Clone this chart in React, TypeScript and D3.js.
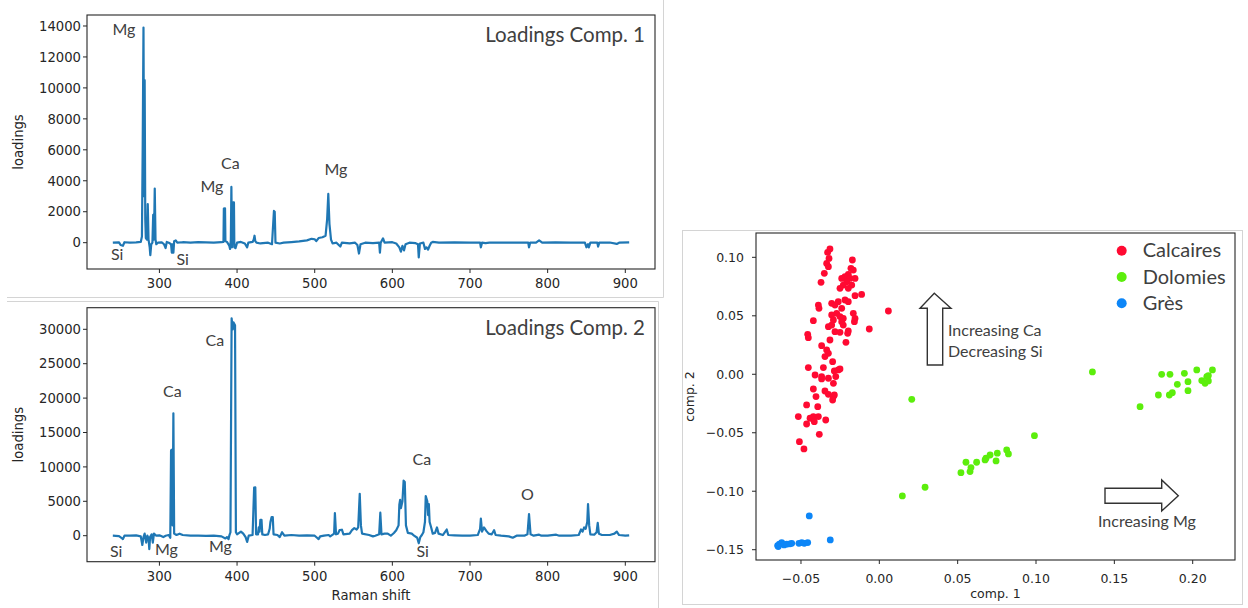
import React from "react";
import * as d3 from "d3";

// ---------- DATA ----------
// Loadings component 1: [Raman shift, loading]
const loadings1: [number, number][] = [
  [240, 0], [248, 20], [250, -150], [253, -200], [255, 30], [262, 0], [270, 20], [276, 50],
  [277.5, 400], [278.5, 6300], [279.5, 13900], [280.3, 3000], [281, 10500], [281.8, 1500], [282.5, 300],
  [284, 200], [285, 2500], [286, 200], [287.5, -300], [288.3, -800], [289.5, -100], [291, 0], [292, 1800],
  [293, 200], [294, 3500], [295, 200], [296, -100], [298, 0],
  [303, 20], [306, -100], [308, -350], [309.5, 50], [312, 0], [315, -100], [316, -650], [317, -100],
  [318, -650], [319, 100], [321, 150], [323, 0],
  [330, 30], [340, 0], [350, 40], [360, 20], [370, 0], [380, 30], [382.5, 50], [383, 2200], [384.5, 2220],
  [385, 100], [387, 50], [390, -200], [391, -400], [392, 200], [392.7, 3600], [393.5, -300], [395, 2600],
  [396, 2600], [396.5, -300], [398, -350], [400, 0], [405, 50], [410, -50], [413, -300], [414.5, 0],
  [420, 50], [421.5, 200], [422.5, 450], [423.5, 100], [425, 0], [430, -50], [440, 0], [445, -100],
  [447.5, 2050], [448.5, 2000], [449.5, 0], [455, -50], [460, 0], [470, 40], [480, 80], [490, 150],
  [496, 250], [500, 220], [502, 100], [505, 300], [510, 350], [514, 450], [516, 1500], [517.5, 3150],
  [519, 1200], [521, 200], [523, -50], [528, 0], [530, -100], [533, -250], [535, 0], [545, -50], [552, 0],
  [555, -150], [557, -700], [559, -100], [565, 0], [575, -30], [583, 0], [584, -650], [585, 0], [588, 280],
  [590, 0], [600, 30], [605, -50], [609, -300], [611, -580], [613, -200], [615, -500], [617, -100],
  [622, 0], [630, -30], [633, -100], [634, -950], [635.5, -50], [640, 0], [642, -400], [644, -300],
  [646, -450], [648, -200], [650, 0], [652, 50], [660, 0], [680, 20], [700, 0], [713, 0], [714, -300],
  [715.5, 0], [720, -30], [725, 0], [740, 10], [760, 0], [775, 0], [776, -300], [777.5, 0], [785, 0],
  [789, 150], [793, 0], [810, 20], [830, 0], [848, 0], [850, -300], [852, -100], [853, -300], [855, 0],
  [864, 0], [865, -250], [866.5, 0], [880, 10], [889, -80], [892, 0], [905, 20],
];

// Loadings component 2: [Raman shift, loading]
const loadings2: [number, number][] = [
  [240, 0], [248, -50], [251, -300], [253, -500], [255, 0], [262, 0], [270, 50], [276, -100],
  [278, -1350], [279.5, -200], [281, 300], [283, -1000], [284.5, 0], [286, -400], [287, -1940],
  [288, -200], [290, 200], [291.5, -1000], [293, 300], [296, 0], [300, 50], [305, -200], [308, 0],
  [312, 100], [314, -300], [315, 12400], [316, 12500], [317, 1500], [318, 17800], [319, 300], [322, 100],
  [326, 300], [330, 100], [340, 0], [350, 0], [360, -30], [370, 0], [380, -100], [385, -400], [387, -200],
  [389, -500], [390, 0], [391.5, 500], [393, 31600], [394.5, 30000], [395.5, 31000], [397.4, 30600],
  [398.5, 500], [400, 200], [405, 600], [408, 300], [411, -200], [413, -900], [415, 0], [420, 100],
  [422, 7000], [423.5, 7030], [424.5, 200], [427, 200], [428, 1200], [429, 600], [430, 2300],
  [431.5, 2300], [432.5, 200], [436, 100], [440, 200], [442, 1000], [443, 2000], [444.5, 2700],
  [446, 2700], [447, 200], [452, 100], [455, -200], [458, 500], [461, 0], [470, 100], [480, 0], [490, 50],
  [500, 0], [503, -300], [505, -500], [507, -100], [512, 0], [518, 100], [520, -100], [525, 300],
  [526, 3300], [527.5, 200], [530, 300], [532, 800], [535, 870], [537, 200], [545, 300], [548, 800],
  [551, 1100], [554, 900], [556, 1200], [558, 6100], [559.5, 1500], [561, 300], [570, 100], [575, -100],
  [578, 0], [583, 200], [584.5, 3340], [586, 200], [590, 300], [594, 300], [598, 0], [602, 400],
  [605, 800], [608, 1500], [609, 4500], [610, 5200], [611, 4000], [613, 5000], [614.5, 8000],
  [616, 7800], [617.5, 1500], [620, 400], [625, 300], [628, 0], [632, -300], [634, -1100], [636, -200],
  [638, 100], [640, 500], [642, 2000], [643, 5770], [645, 5000], [646, 3000], [647, 4600], [648, 2000],
  [650, 1200], [652, 300], [655, 400], [657.5, 1200], [659.5, 300], [665, 100], [670, 900], [672, 100],
  [680, 50], [690, 0], [700, 0], [710, 100], [713, 1000], [714, 2500], [715.5, 600], [718, 1200],
  [721, 700], [724, 300], [728, 200], [731, 800], [733, 100], [740, 0], [750, -100], [755, -300],
  [760, 0], [770, 0], [774, 200], [776, 3150], [778, 200], [782, 0], [789, 150], [792, 0], [800, 0],
  [811, 150], [815, 0], [830, 0], [840, 100], [843, 900], [845, 600], [847, 1200], [849, 1000],
  [851, 2000], [852, 4600], [853.5, 1500], [855, 200], [860, 150], [863, 500], [864.5, 1870], [866, 300],
  [870, 100], [880, 100], [886, 300], [889, 600], [892, 100], [900, 0], [905, 50],
];

// Scatter: [comp.1, comp.2]
const calcaires: [number, number][] = [
  [-0.0315, 0.1071], [-0.0330, 0.1042], [-0.0321, 0.0991], [-0.0336, 0.0948], [-0.0325, 0.0920],
  [-0.0351, 0.0863], [-0.0372, 0.0786], [-0.0172, 0.0977], [-0.0181, 0.0906], [-0.0166, 0.0891],
  [-0.0198, 0.0854], [-0.0219, 0.0834], [-0.0240, 0.0820], [-0.0187, 0.0820], [-0.0155, 0.0820],
  [-0.0208, 0.0792], [-0.0230, 0.0763], [-0.0176, 0.0763], [-0.0198, 0.0735], [-0.0251, 0.0735],
  [-0.0155, 0.0672], [-0.0113, 0.0683], [-0.0389, 0.0592], [-0.0385, 0.0564], [-0.0304, 0.0607],
  [-0.0262, 0.0621], [-0.0283, 0.0592], [-0.0219, 0.0635], [-0.0198, 0.0621], [-0.0240, 0.0564],
  [-0.0304, 0.0507], [-0.0272, 0.0521], [-0.0251, 0.0493], [-0.0230, 0.0478], [-0.0166, 0.0521],
  [-0.0155, 0.0478], [-0.0159, 0.0450], [-0.0293, 0.0464], [-0.0240, 0.0450], [-0.0230, 0.0421],
  [-0.0421, 0.0458], [-0.0325, 0.0407], [-0.0304, 0.0421], [-0.0283, 0.0364], [-0.0251, 0.0359],
  [-0.0198, 0.0370], [-0.0202, 0.0350], [-0.0064, 0.0387], [0.0058, 0.0541], [-0.0457, 0.0342],
  [-0.0453, 0.0313], [-0.0315, 0.0293], [-0.0213, 0.0273], [-0.0368, 0.0245], [-0.0336, 0.0208],
  [-0.0325, 0.0179], [-0.0347, 0.0151], [-0.0298, 0.0108], [-0.0453, 0.0057], [-0.0410, -0.0006],
  [-0.0357, 0.0057], [-0.0368, -0.0020], [-0.0325, -0.0034], [-0.0287, 0.0028], [-0.0262, 0.0037],
  [-0.0251, 0.0045], [-0.0278, -0.0020], [-0.0293, -0.0077], [-0.0368, -0.0040], [-0.0421, -0.0126],
  [-0.0347, -0.0143], [-0.0325, -0.0171], [-0.0293, -0.0191], [-0.0287, -0.0177], [-0.0404, -0.0191],
  [-0.0298, -0.0220], [-0.0464, -0.0262], [-0.0393, -0.0277], [-0.0517, -0.0362], [-0.0464, -0.0425],
  [-0.0442, -0.0376], [-0.0421, -0.0362], [-0.0389, -0.0362], [-0.0415, -0.0405], [-0.0342, -0.0391],
  [-0.0383, -0.0513], [-0.0510, -0.0576], [-0.0481, -0.0638],
];

const dolomies: [number, number][] = [
  [0.0207, -0.0214], [0.1360, 0.0020], [0.1664, -0.0277], [0.1802, 0.0000], [0.1855, 0.0000],
  [0.1947, 0.0008], [0.2026, 0.0037], [0.2126, 0.0037], [0.1902, -0.0086], [0.1970, -0.0063],
  [0.2058, -0.0054], [0.2079, -0.0077], [0.2100, -0.0057], [0.2090, -0.0020], [0.2100, -0.0011],
  [0.1781, -0.0177], [0.1851, -0.0177], [0.1870, -0.0157], [0.1970, -0.0140],
  [0.0990, -0.0525], [0.0521, -0.0841], [0.0553, -0.0752], [0.0579, -0.0832], [0.0585, -0.0798],
  [0.0621, -0.0752], [0.0675, -0.0732], [0.0681, -0.0718], [0.0707, -0.0690], [0.0745, -0.0741],
  [0.0753, -0.0675], [0.0813, -0.0647], [0.0824, -0.0681], [0.0147, -0.1040], [0.0292, -0.0966],
];

const gres: [number, number][] = [
  [-0.0447, -0.1211], [-0.0313, -0.1416], [-0.0649, -0.1465], [-0.0638, -0.1453], [-0.0623, -0.1439],
  [-0.0608, -0.1459], [-0.0591, -0.1453], [-0.0570, -0.1450], [-0.0559, -0.1445], [-0.0513, -0.1445],
  [-0.0495, -0.1439], [-0.0479, -0.1445], [-0.0457, -0.1439], [-0.0645, -0.1473],
];

const xTicksSpec = [300, 400, 500, 600, 700, 800, 900];
const yTicks1 = [0, 2000, 4000, 6000, 8000, 10000, 12000, 14000];
const yTicks2 = [0, 5000, 10000, 15000, 20000, 25000, 30000];
const scatterXTicks = [-0.05, 0, 0.05, 0.1, 0.15, 0.2];
const scatterYTicks = [-0.15, -0.1, -0.05, 0, 0.05, 0.1];

const legendLabels = ["Calcaires", "Dolomies", "Grès"];
const legendColors = ["#ff0a32", "#5cee0c", "#0d86f7"];

// annotation labels (text, left x px, baseline y px)
const ann1: [string, number, number][] = [
  ["Mg", 112.5, 35], ["Si", 111, 260], ["Si", 176.5, 265], ["Mg", 200.5, 191.5], ["Ca", 221, 169.3],
  ["Mg", 324.5, 175],
];
const ann2: [string, number, number][] = [
  ["Ca", 205.5, 345.7], ["Ca", 163, 396.7], ["Si", 110, 556.7], ["Mg", 155, 555], ["Mg", 209, 551.7],
  ["Ca", 412.5, 465], ["O", 521, 500], ["Si", 416.5, 556.7],
];

// ---------- STYLE ----------
const TICK_FONT = "'DejaVu Sans', sans-serif";
const ANN_FONT = "Lato, 'Open Sans', sans-serif";
const AXIS_COLOR = "#262626";
const TEXT_COLOR = "#262626";
const LINE_COLOR = "#1f77b4";
const FRAME = "#d4d4d4";

const fmtScatter = (v: number) => {
  const s = Math.abs(v).toFixed(2);
  return v < -1e-9 ? "\u2212" + s : s;
};

type SpecProps = {
  id: string;
  data: [number, number][];
  top: number;
  bottom: number;
  yDomain: [number, number];
  yTicks: number[];
  title: string;
  ann: [string, number, number][];
  xLabel?: string;
};

const LEFT = 87;
const RIGHT = 655;

function Spectrum({ id, data, top, bottom, yDomain, yTicks, title, ann, xLabel }: SpecProps) {
  const x = d3.scaleLinear().domain([206.75, 938.25]).range([LEFT, RIGHT]);
  const y = d3.scaleLinear().domain(yDomain).range([bottom, top]);
  const line = d3
    .line<[number, number]>()
    .x((d) => x(d[0]))
    .y((d) => y(d[1]));
  return (
    <g>
      <clipPath id={id}>
        <rect x={LEFT} y={top} width={RIGHT - LEFT} height={bottom - top} />
      </clipPath>
      <path
        d={line(data) || ""}
        fill="none"
        stroke={LINE_COLOR}
        strokeWidth={2.2}
        strokeLinejoin="round"
        clipPath={`url(#${id})`}
      />
      <rect x={LEFT} y={top} width={RIGHT - LEFT} height={bottom - top} fill="none" stroke={AXIS_COLOR} strokeWidth={1.1} />
      {xTicksSpec.map((t) => (
        <g key={"x" + t}>
          <line x1={x(t)} x2={x(t)} y1={bottom} y2={bottom + 4} stroke={AXIS_COLOR} strokeWidth={1} />
          <text x={x(t)} y={bottom + 19} textAnchor="middle" fontFamily={TICK_FONT} fontSize={13.2} fill={TEXT_COLOR}>
            {t}
          </text>
        </g>
      ))}
      {yTicks.map((t) => (
        <g key={"y" + t}>
          <line x1={LEFT - 4} x2={LEFT} y1={y(t)} y2={y(t)} stroke={AXIS_COLOR} strokeWidth={1} />
          <text x={LEFT - 6} y={y(t)} dy="0.36em" textAnchor="end" fontFamily={TICK_FONT} fontSize={13.2} fill={TEXT_COLOR}>
            {t}
          </text>
        </g>
      ))}
      <text
        transform={`translate(18,${(top + bottom) / 2}) rotate(-90)`}
        textAnchor="middle"
        dominantBaseline="central"
        fontFamily={TICK_FONT}
        fontSize={13.2}
        fill={TEXT_COLOR}
      >
        loadings
      </text>
      {xLabel && (
        <text x={(LEFT + RIGHT) / 2} y={bottom + 38} textAnchor="middle" fontFamily={TICK_FONT} fontSize={13.2} fill={TEXT_COLOR}>
          {xLabel}
        </text>
      )}
      <text x={RIGHT - 10} y={top + 27} textAnchor="end" fontFamily={ANN_FONT} fontSize={20.5} fill="#404040">
        {title}
      </text>
      {ann.map(([lab, px, py], i) => (
        <text key={i} x={px} y={py} fontFamily={ANN_FONT} fontSize={16} fill="#404040">
          {lab}
        </text>
      ))}
    </g>
  );
}

function Scatter() {
  const L = 756, R = 1235, T = 233, B = 560;
  const x = d3.scaleLinear().domain([-0.0787, 0.227]).range([L, R]);
  const y = d3.scaleLinear().domain([-0.1588, 0.1208]).range([B, T]);
  const groups = [calcaires, dolomies, gres];
  return (
    <g>
      {groups.map((g, gi) =>
        g.map((d, i) => <circle key={gi + "-" + i} cx={x(d[0])} cy={y(d[1])} r={3.4} fill={legendColors[gi]} />)
      )}
      <rect x={L} y={T} width={R - L} height={B - T} fill="none" stroke={AXIS_COLOR} strokeWidth={1.1} />
      {scatterXTicks.map((t) => (
        <g key={"sx" + t}>
          <line x1={x(t)} x2={x(t)} y1={B} y2={B + 4} stroke={AXIS_COLOR} />
          <text x={x(t)} y={B + 23} textAnchor="middle" fontFamily={TICK_FONT} fontSize={12.5} fill={TEXT_COLOR}>
            {fmtScatter(t)}
          </text>
        </g>
      ))}
      {scatterYTicks.map((t) => (
        <g key={"sy" + t}>
          <line x1={L - 4} x2={L} y1={y(t)} y2={y(t)} stroke={AXIS_COLOR} />
          <text x={L - 12} y={y(t)} dy="0.36em" textAnchor="end" fontFamily={TICK_FONT} fontSize={12.5} fill={TEXT_COLOR}>
            {fmtScatter(t)}
          </text>
        </g>
      ))}
      <text x={(L + R) / 2} y={598} textAnchor="middle" fontFamily={TICK_FONT} fontSize={12.5} fill={TEXT_COLOR}>
        comp. 1
      </text>
      <text
        transform={`translate(689,${(T + B) / 2}) rotate(-90)`}
        textAnchor="middle"
        dominantBaseline="central"
        fontFamily={TICK_FONT}
        fontSize={12.5}
        fill={TEXT_COLOR}
      >
        comp. 2
      </text>
      {legendLabels.map((lab, i) => (
        <g key={lab}>
          <circle cx={1121.7} cy={250.7 + i * 26.3} r={5} fill={legendColors[i]} />
          <text x={1142.7} y={257.3 + i * 26.3} fontFamily={ANN_FONT} fontSize={20} fill="#404040">
            {lab}
          </text>
        </g>
      ))}
      {/* arrows */}
      <polygon
        points="934.3,293.3 951,308.3 942.7,308.3 942.7,365 927.3,365 927.3,308.3 920,308.3"
        fill="#fff"
        stroke="#333"
        strokeWidth={1.4}
      />
      <text x={948} y={335.7} fontFamily={ANN_FONT} fontSize={16} fill="#404040">Increasing Ca</text>
      <text x={948} y={356.7} fontFamily={ANN_FONT} fontSize={16} fill="#404040">Decreasing Si</text>
      <polygon
        points="1105,488.3 1161.7,488.3 1161.7,480 1178.3,495.7 1161.7,511 1161.7,503.3 1105,503.3"
        fill="#fff"
        stroke="#333"
        strokeWidth={1.4}
      />
      <text x={1098} y={526.7} fontFamily={ANN_FONT} fontSize={16} fill="#404040">Increasing Mg</text>
    </g>
  );
}

export default function App() {
  return (
    <svg
      width={1248}
      height={608}
      viewBox="0 0 1248 608"
      style={{ position: "absolute", left: 0, top: 0, background: "#fff" }}
    >
      <rect width={1248} height={608} fill="#fff" />
      {/* panel frames */}
      <line x1={7} x2={663.5} y1={297.5} y2={297.5} stroke={FRAME} />
      <line x1={663.5} x2={663.5} y1={0} y2={297.5} stroke={FRAME} />
      <line x1={7} x2={658.5} y1={301.5} y2={301.5} stroke={FRAME} />
      <line x1={658.5} x2={658.5} y1={301.5} y2={608} stroke={FRAME} />
      <rect x={682.5} y={230.5} width={560} height={374} fill="none" stroke={FRAME} />
      <Spectrum
        id="clipA"
        data={loadings1}
        top={15}
        bottom={269}
        yDomain={[-1700, 14710]}
        yTicks={yTicks1}
        title="Loadings Comp. 1"
        ann={ann1}
      />
      <Spectrum
        id="clipB"
        data={loadings2}
        top={307.7}
        bottom={561.7}
        yDomain={[-3779, 33140]}
        yTicks={yTicks2}
        title="Loadings Comp. 2"
        ann={ann2}
        xLabel="Raman shift"
      />
      <Scatter />
    </svg>
  );
}
